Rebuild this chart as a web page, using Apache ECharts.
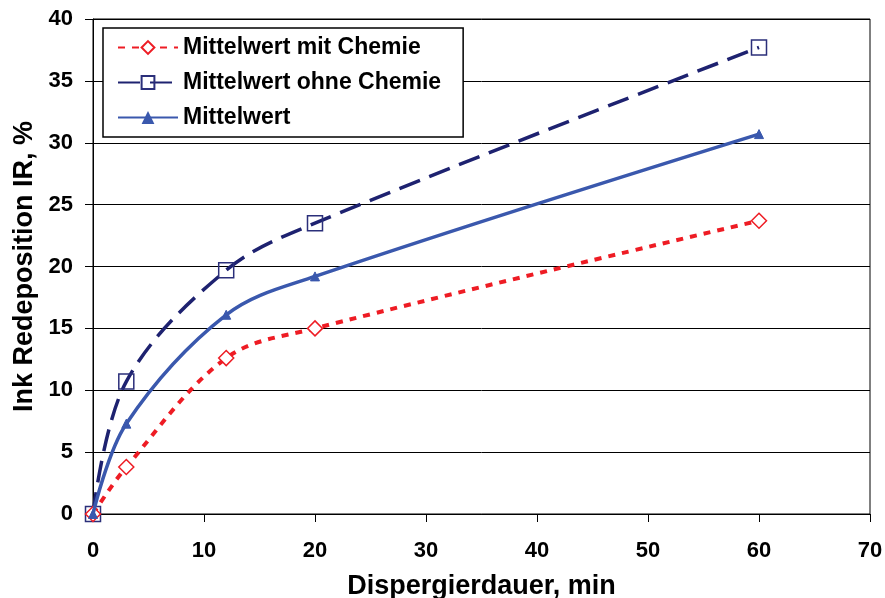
<!DOCTYPE html>
<html><head><meta charset="utf-8">
<script src="https://cdn.jsdelivr.net/npm/echarts@6/dist/echarts.min.js"></script>
<style>html,body{margin:0;padding:0;background:#fff}#c{width:885px;height:598px}</style>
</head><body><div id="c"></div>
<script>
const xValues = [0, 3, 12, 20, 60];
const mitChemie = [0, 3.8, 12.6, 15.0, 23.7];
const ohneChemie = [0, 10.7, 19.7, 23.5, 37.7];
const mittelwert = [0, 7.3, 16.1, 19.2, 30.7];
const seriesNames = ['Mittelwert mit Chemie', 'Mittelwert ohne Chemie', 'Mittelwert'];
const xTitle = 'Dispergierdauer, min';
const yTitle = 'Ink Redeposition IR, %';

const pairs = arr => xValues.map((x, i) => [x, arr[i]]);
const font = 'Liberation Sans, Arial, sans-serif';
const chart = echarts.init(document.getElementById('c'));
chart.setOption({
  animation: false,
  backgroundColor: '#fff',
  grid: { left: 93, right: 15, top: 19, bottom: 84, show: true, borderColor: '#000', borderWidth: 1,
          containLabel: false, outerBoundsMode: 'none' },
  legend: {
    orient: 'vertical', left: 103, top: 28,
    backgroundColor: '#fff', borderColor: '#000', borderWidth: 1.5,
    padding: [8, 22, 8, 14], itemGap: 12, itemWidth: 60, itemHeight: 16,
    textStyle: { fontFamily: font, fontWeight: 'bold', fontSize: 23, color: '#000' },
    data: seriesNames
  },
  xAxis: {
    type: 'value', min: 0, max: 70, interval: 10,
    name: xTitle, nameLocation: 'middle', nameGap: 59,
    nameTextStyle: { fontFamily: font, fontWeight: 'bold', fontSize: 27, color: '#000' },
    axisLine: { show: true, lineStyle: { color: '#000', width: 1 } },
    axisTick: { show: true, length: 8, inside: false, lineStyle: { color: '#000' } },
    axisLabel: { fontFamily: font, fontWeight: 'bold', fontSize: 22, color: '#000', margin: 26 },
    splitLine: { show: false }
  },
  yAxis: {
    type: 'value', min: 0, max: 40, interval: 5,
    name: yTitle, nameLocation: 'middle', nameGap: 48,
    nameTextStyle: { fontFamily: font, fontWeight: 'bold', fontSize: 27, color: '#000' },
    axisLine: { show: true, lineStyle: { color: '#000', width: 1 } },
    axisTick: { show: true, length: 8, inside: false, lineStyle: { color: '#000' } },
    axisLabel: { fontFamily: font, fontWeight: 'bold', fontSize: 22, color: '#000', margin: 20 },
    splitLine: { show: true, lineStyle: { color: '#000', width: 1 } }
  },
  series: [
    {
      name: seriesNames[0], type: 'line', data: pairs(mitChemie), smooth: 0.35,
      symbol: 'diamond', symbolSize: 15,
      itemStyle: { color: '#fff', borderColor: '#ee1c24', borderWidth: 1.5 },
      lineStyle: { color: '#ee1c24', width: 4, type: [7, 7] },
      z: 3
    },
    {
      name: seriesNames[1], type: 'line', data: pairs(ohneChemie), smooth: 0.35,
      symbol: 'rect', symbolSize: 15,
      itemStyle: { color: 'rgba(255,255,255,0)', borderColor: '#2b2f7a', borderWidth: 1.5 },
      lineStyle: { color: '#1e2270', width: 3.5, type: [22, 10] },
      z: 2
    },
    {
      name: seriesNames[2], type: 'line', data: pairs(mittelwert), smooth: 0.35,
      symbol: 'triangle', symbolSize: 9,
      itemStyle: { color: '#3a58ad', borderColor: '#3a58ad' },
      lineStyle: { color: '#3a58ad', width: 3.5, type: 'solid' },
      z: 4
    }
  ]
});
</script></body></html>
